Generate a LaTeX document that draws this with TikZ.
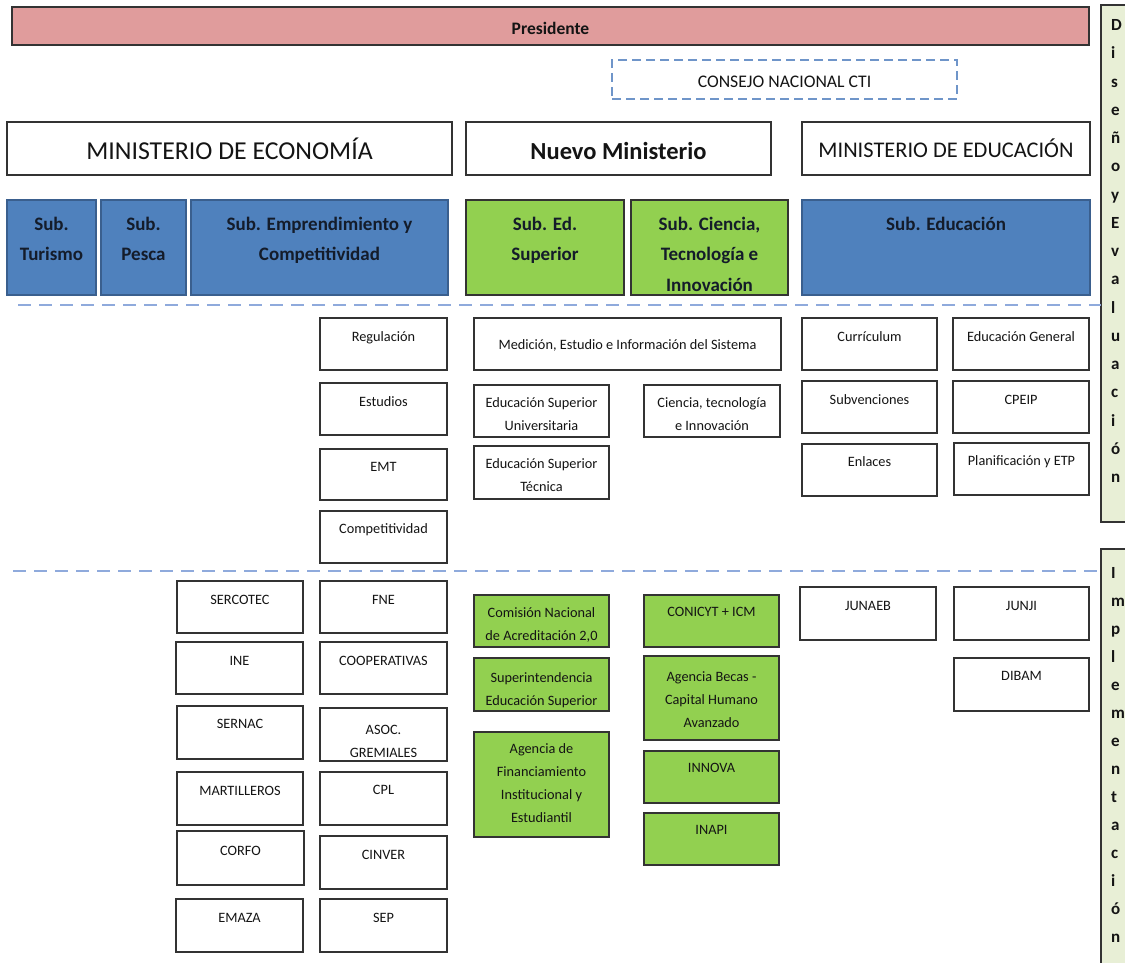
\documentclass[tikz,border=0pt]{standalone}
\usepackage{fontspec}
\setmainfont{Carlito}
\definecolor{pinkF}{HTML}{E09C9C}
\definecolor{blueF}{HTML}{4F81BD}
\definecolor{blueD}{HTML}{3A5F8E}
\definecolor{greenF}{HTML}{92D050}
\definecolor{sideF}{HTML}{E8EFD6}
\definecolor{bordc}{HTML}{333333}
\definecolor{txtc}{HTML}{141414}
\definecolor{subtxt}{HTML}{141C2A}
\definecolor{sepc}{HTML}{8FAADC}
\definecolor{cnsc}{HTML}{6F95C9}
\tikzset{
  base/.style={inner sep=0pt, outer sep=0pt, line width=1.8pt, text=txtc},
  wbox/.style={base, draw=bordc, fill=white, font=\fontsize{14.3}{23}\selectfont},
  gbox/.style={base, draw=bordc, fill=greenF, font=\fontsize{14.3}{23}\selectfont},
  bsub/.style={base, draw=blueD, line width=1.4pt, fill=blueF, text=subtxt, font=\bfseries\fontsize{19}{30.5}\selectfont},
  gsub/.style={base, draw=bordc, line width=1.4pt, fill=greenF, text=subtxt, font=\bfseries\fontsize{19}{30.5}\selectfont},
  headbox/.style={base, draw=bordc, fill=white},
  presbox/.style={base, draw=bordc, fill=pinkF, font=\bfseries\fontsize{17.5}{21}\selectfont},
  cnsbox/.style={base, draw=cnsc, line width=1.8pt, dash pattern=on 9pt off 5pt, font=\fontsize{17.7}{21}\selectfont},
  sidebox/.style={base, draw=bordc, fill=sideF, font=\bfseries\fontsize{17}{28.25}\selectfont},
  sepline/.style={draw=sepc, line width=2pt, dash pattern=on 13pt off 8pt}
}
% style, name, x1, y1, x2, y2, top pad, text
\newcommand\orgbx[8]{%
  \node[#1] (#2) at ({(#3+#5)/2},{(#4+#6)/2})
   {\parbox[c][\dimexpr #6pt-#4pt\relax][t]{\dimexpr #5pt-#3pt\relax}{\centering\vspace*{#7pt}\strut #8\par}};}
% style, name, x1, y1, x2, y2, text (centred)
\newcommand\hbx[7]{%
  \node[#1, minimum width={(#5-#3)*1pt}, minimum height={(#6-#4)*1pt}] (#2) at ({(#3+#5)/2},{(#4+#6)/2}) {#7};}
\begin{document}
\begin{tikzpicture}[x=1pt,y=-1pt]
\useasboundingbox (0,0) rectangle (1125,963);
\clip (0,0) rectangle (1125,963);

% top
\hbx{presbox, text height=27.2pt, text depth=10.8pt}{pres}{12}{7}{1089}{45}{Presidente}
\hbx{cnsbox, text height=27.3pt, text depth=11.7pt}{consejo}{612}{60}{957}{99}{CONSEJO NACIONAL CTI}

% side bars
\node[sidebox] (dis) at (1121,263.5) {\parbox[c][517pt][t]{40pt}{\raggedright\leftskip=10pt\vspace*{5.9pt}\strut D\\i\\s\\e\\ñ\\o\\y\\E\\v\\a\\l\\u\\a\\c\\i\\ó\\n\par}};
\node[sidebox, font=\bfseries\fontsize{17}{28}\selectfont] (imp) at (1121,759.5) {\parbox[c][421pt][t]{40pt}{\raggedright\leftskip=10pt\vspace*{9.5pt}\strut I\\m\\p\\l\\e\\m\\e\\n\\t\\a\\c\\i\\ó\\n\par}};

% ministries
\hbx{headbox, font=\fontsize{25.8}{30}\selectfont}{mecon}{7}{122}{452}{175}{MINISTERIO DE ECONOMÍA}
\hbx{headbox, font=\bfseries\fontsize{24.5}{30}\selectfont, text height=37.5pt, text depth=15.5pt}{mnuevo}{466}{122}{771}{175}{Nuevo Ministerio}
\hbx{headbox, font=\fontsize{22.4}{27}\selectfont}{medu}{802}{122}{1090}{175}{MINISTERIO DE EDUCACIÓN}

% sub-secretariats
\orgbx{bsub}{stur}{7}{200}{96}{295}{8.8}{Sub.\\Turismo}
\orgbx{bsub}{spes}{101}{200}{186}{295}{8.8}{Sub.\\Pesca}
\orgbx{bsub}{semp}{191}{200}{448}{295}{8.8}{Sub. Emprendimiento y\\Competitividad}
\orgbx{gsub}{sesup}{466}{200}{624}{295}{8.8}{Sub. Ed.\\Superior}
\orgbx{gsub}{scien}{631}{200}{788}{295}{8.8}{Sub. Ciencia,\\Tecnología e\\Innovación}
\orgbx{bsub}{sedu}{802}{200}{1090}{295}{8.8}{Sub. Educación}

% separators
\coordinate (s1a) at (18,305);
\coordinate (s1b) at (1101,305);
\coordinate (s2a) at (13,571);
\coordinate (s2b) at (1101,571);
\draw[sepline] (s1a) -- (s1b);
\draw[sepline] (s2a) -- (s2b);

% design level: economy
\orgbx{wbox}{reg}{320}{318}{447}{370}{7.2}{Regulación}
\orgbx{wbox}{est}{320}{383}{447}{435}{7.2}{Estudios}
\orgbx{wbox}{emt}{320}{449}{447}{500}{6.2}{EMT}
\orgbx{wbox}{comp}{320}{511}{447}{563}{6.2}{Competitividad}

% design level: new ministry
\orgbx{wbox}{medi}{474}{318}{781}{370}{15.2}{Medición, Estudio e Información del Sistema}
\orgbx{wbox}{esu}{474}{385}{609}{437}{6.2}{Educación Superior\\Universitaria}
\orgbx{wbox}{cti}{644}{385}{780}{437}{6.2}{Ciencia, tecnología\\e Innovación}
\orgbx{wbox}{est2}{474}{446}{609}{499}{6.2}{Educación Superior\\Técnica}

% design level: education
\orgbx{wbox}{curr}{802}{318}{937}{370}{7.2}{Currículum}
\orgbx{wbox}{egen}{953}{318}{1089}{370}{7.2}{Educación General}
\orgbx{wbox}{subv}{802}{381}{937}{433}{7.2}{Subvenciones}
\orgbx{wbox}{cpeip}{953}{381}{1089}{433}{7.2}{CPEIP}
\orgbx{wbox}{enl}{802}{444}{937}{496}{6.2}{Enlaces}
\orgbx{wbox}{plan}{954}{443}{1089}{495}{6.2}{Planificación y ETP}

% implementation: economy
\orgbx{wbox}{serc}{177}{581}{303}{633}{7.2}{SERCOTEC}
\orgbx{wbox}{ine}{176}{642}{303}{694}{7.2}{INE}
\orgbx{wbox}{sern}{177}{706}{303}{759}{6.2}{SERNAC}
\orgbx{wbox}{mart}{177}{772}{303}{825}{7.2}{MARTILLEROS}
\orgbx{wbox}{corfo}{177}{831}{304}{885}{8.2}{CORFO}
\orgbx{wbox}{emaza}{176}{899}{303}{952}{7.2}{EMAZA}
\orgbx{wbox}{fne}{320}{581}{447}{633}{7.2}{FNE}
\orgbx{wbox}{coop}{320}{642}{447}{694}{7.2}{COOPERATIVAS}
\orgbx{wbox}{asoc}{320}{708}{447}{761}{10.2}{ASOC.\\GREMIALES}
\orgbx{wbox}{cpl}{320}{772}{447}{825}{6.2}{CPL}
\orgbx{wbox}{cinv}{320}{836}{447}{889}{7.2}{CINVER}
\orgbx{wbox}{sep}{320}{899}{447}{952}{7.2}{SEP}

% implementation: new ministry
\orgbx{gbox}{cna}{474}{595}{609}{647}{6.2}{Comisión Nacional\\de Acreditación 2,0}
\orgbx{gbox}{sies}{474}{658}{609}{711}{8.2}{Superintendencia\\Educación Superior}
\orgbx{gbox}{afie}{474}{732}{609}{837}{5.2}{Agencia de\\Financiamiento\\Institucional y\\Estudiantil}
\orgbx{gbox}{coni}{644}{595}{779}{647}{5.2}{CONICYT + ICM}
\orgbx{gbox}{abec}{644}{656}{779}{740}{9.2}{Agencia Becas -\\Capital Humano\\Avanzado}
\orgbx{gbox}{innova}{644}{751}{779}{803}{5.2}{INNOVA}
\orgbx{gbox}{inapi}{644}{813}{779}{865}{5.2}{INAPI}

% implementation: education
\orgbx{wbox}{junaeb}{800}{587}{936}{640}{7.2}{JUNAEB}
\orgbx{wbox}{junji}{954}{587}{1089}{640}{7.2}{JUNJI}
\orgbx{wbox}{dibam}{954}{658}{1089}{711}{6.2}{DIBAM}
\end{tikzpicture}
\end{document}
